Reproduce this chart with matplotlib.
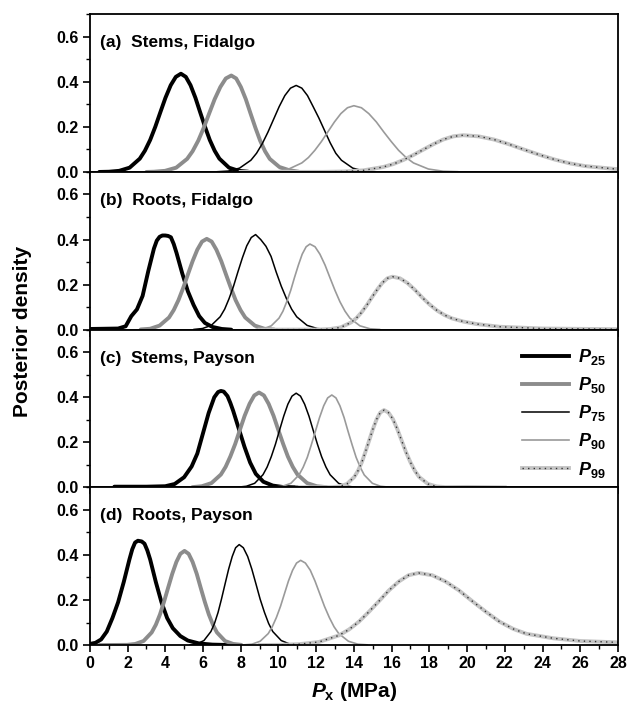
import matplotlib
matplotlib.use('Agg')
import matplotlib.pyplot as plt
from matplotlib.ticker import MultipleLocator, FormatStrFormatter
from matplotlib.lines import Line2D
from matplotlib.legend_handler import HandlerTuple

plt.rcParams['font.family'] = ['Liberation Sans', 'DejaVu Sans']
plt.rcParams['font.weight'] = 'bold'
plt.rcParams['mathtext.fontset'] = 'custom'
plt.rcParams['mathtext.rm'] = 'Liberation Sans:bold'
plt.rcParams['mathtext.it'] = 'Liberation Sans:italic:bold'
plt.rcParams['mathtext.bf'] = 'Liberation Sans:bold'

# ---- data (Px in MPa, posterior density) ----
panel_titles = ['(a)  Stems, Fidalgo', '(b)  Roots, Fidalgo',
                '(c)  Stems, Payson', '(d)  Roots, Payson']
series_names = ['25', '50', '75', '90', '99']

# (a) Stems, Fidalgo
a_p25_x = [0.5, 1.02, 1.56, 2.11, 2.65, 2.92, 3.2, 3.47, 3.74, 4.01, 4.29, 4.56, 4.83, 5.09, 5.34, 5.6, 5.85, 6.11, 6.36, 6.62, 6.87, 7.38, 7.89, 8.4]
a_p25_y = [0.0, 0.001, 0.005, 0.019, 0.059, 0.094, 0.142, 0.2, 0.265, 0.329, 0.385, 0.422, 0.436, 0.422, 0.385, 0.329, 0.265, 0.2, 0.142, 0.094, 0.059, 0.019, 0.005, 0.001]
a_p50_x = [3.0, 3.4, 3.99, 4.58, 5.16, 5.45, 5.75, 6.04, 6.33, 6.62, 6.92, 7.21, 7.5, 7.76, 8.01, 8.27, 8.52, 8.78, 9.03, 9.29, 9.54, 10.05, 10.56, 11.07]
a_p50_y = [0.0, 0.001, 0.005, 0.019, 0.058, 0.092, 0.139, 0.196, 0.26, 0.323, 0.377, 0.415, 0.428, 0.415, 0.377, 0.323, 0.26, 0.196, 0.139, 0.092, 0.058, 0.022, 0.008, 0.001]
a_p75_x = [6.74, 7.34, 7.94, 8.54, 8.84, 9.14, 9.44, 9.74, 10.04, 10.34, 10.64, 10.94, 11.24, 11.54, 11.84, 12.14, 12.44, 12.74, 13.04, 13.34, 13.94, 14.54, 15.14]
a_p75_y = [0.001, 0.004, 0.017, 0.052, 0.083, 0.125, 0.176, 0.233, 0.29, 0.339, 0.372, 0.384, 0.372, 0.339, 0.29, 0.24, 0.185, 0.13, 0.083, 0.052, 0.017, 0.004, 0.001]
a_p90_x = [9.17, 9.86, 10.55, 11.24, 11.59, 11.93, 12.28, 12.62, 12.97, 13.31, 13.66, 14.0, 14.4, 14.79, 15.19, 15.58, 15.98, 16.37, 16.77, 17.16, 17.95, 18.74, 19.53]
a_p90_y = [0.001, 0.003, 0.013, 0.04, 0.064, 0.096, 0.135, 0.178, 0.222, 0.259, 0.285, 0.294, 0.285, 0.259, 0.222, 0.178, 0.135, 0.096, 0.064, 0.04, 0.013, 0.003, 0.001]
a_p99_x = [8.0, 12.38, 13.44, 14.5, 15.56, 16.09, 16.62, 17.15, 17.68, 18.21, 18.74, 19.27, 19.8, 20.61, 21.42, 22.22, 23.03, 23.84, 24.65, 25.45, 26.26, 28.0]
a_p99_y = [0.0, 0.0003, 0.002, 0.007, 0.022, 0.035, 0.053, 0.075, 0.099, 0.123, 0.144, 0.158, 0.163, 0.158, 0.144, 0.123, 0.099, 0.076, 0.055, 0.038, 0.026, 0.012]

# (b) Roots, Fidalgo
b_p25_x = [0.0, 1.5, 1.9, 2.2, 2.5, 2.8, 3.1, 3.4, 3.55, 3.7, 3.85, 4.0, 4.15, 4.3, 4.45, 4.6, 4.9, 5.2, 5.5, 5.8, 6.1, 6.5, 7.0, 7.5]
b_p25_y = [0.003, 0.005, 0.015, 0.06, 0.09, 0.15, 0.26, 0.36, 0.395, 0.412, 0.418, 0.418, 0.416, 0.41, 0.38, 0.34, 0.25, 0.17, 0.11, 0.06, 0.03, 0.012, 0.003, 0.0]
b_p50_x = [2.7, 3.2, 3.7, 4.2, 4.45, 4.7, 4.95, 5.2, 5.45, 5.7, 5.95, 6.2, 6.46, 6.71, 6.97, 7.22, 7.48, 7.73, 7.99, 8.24, 8.75, 9.26, 9.77]
b_p50_y = [0.001, 0.004, 0.018, 0.054, 0.087, 0.131, 0.185, 0.245, 0.304, 0.355, 0.391, 0.403, 0.391, 0.355, 0.304, 0.245, 0.185, 0.131, 0.087, 0.054, 0.018, 0.004, 0.001]
b_p75_x = [5.5, 5.97, 6.44, 6.91, 7.15, 7.38, 7.62, 7.85, 8.09, 8.32, 8.56, 8.79, 9.06, 9.34, 9.61, 9.88, 10.15, 10.43, 10.7, 10.97, 11.52, 12.06, 12.61]
b_p75_y = [0.001, 0.005, 0.019, 0.057, 0.091, 0.137, 0.193, 0.256, 0.319, 0.372, 0.409, 0.422, 0.40, 0.37, 0.325, 0.256, 0.193, 0.137, 0.091, 0.057, 0.019, 0.005, 0.001]
b_p90_x = [8.8, 9.21, 9.62, 10.03, 10.24, 10.44, 10.65, 10.85, 11.06, 11.26, 11.47, 11.67, 11.94, 12.2, 12.47, 12.73, 13.0, 13.26, 13.53, 13.79, 14.32, 14.85, 15.38]
b_p90_y = [0.001, 0.004, 0.017, 0.051, 0.082, 0.124, 0.174, 0.231, 0.287, 0.335, 0.368, 0.38, 0.368, 0.335, 0.287, 0.231, 0.174, 0.124, 0.082, 0.051, 0.017, 0.004, 0.001]
b_p99_x = [9.0, 12.2, 12.75, 13.3, 13.85, 14.13, 14.4, 14.68, 14.95, 15.23, 15.5, 15.78, 16.05, 16.44, 16.84, 17.23, 17.62, 18.01, 18.41, 18.8, 19.2, 19.8, 20.5, 21.7, 24.0, 28.0]
b_p99_y = [0.0, 0.0005, 0.003, 0.01, 0.032, 0.051, 0.076, 0.108, 0.143, 0.177, 0.207, 0.228, 0.235, 0.228, 0.207, 0.177, 0.143, 0.112, 0.085, 0.065, 0.05, 0.036, 0.025, 0.013, 0.005, 0.002]

# (c) Stems, Payson
c_p25_x = [1.3, 3.0, 4.0, 4.5, 5.0, 5.4, 5.7, 6.0, 6.3, 6.6, 6.8, 6.95, 7.1, 7.3, 7.45, 7.6, 7.9, 8.2, 8.5, 8.8, 9.2, 9.7, 10.2, 11.0]
c_p25_y = [0.003, 0.003, 0.005, 0.015, 0.045, 0.093, 0.15, 0.24, 0.33, 0.40, 0.423, 0.428, 0.425, 0.405, 0.375, 0.34, 0.26, 0.18, 0.11, 0.06, 0.025, 0.008, 0.002, 0.0]
c_p50_x = [5.44, 5.94, 6.45, 6.95, 7.2, 7.45, 7.71, 7.96, 8.21, 8.47, 8.72, 8.97, 9.23, 9.48, 9.74, 9.99, 10.25, 10.5, 10.76, 11.01, 11.52, 12.03, 12.54]
c_p50_y = [0.001, 0.005, 0.019, 0.057, 0.091, 0.137, 0.193, 0.256, 0.318, 0.371, 0.408, 0.421, 0.408, 0.371, 0.318, 0.256, 0.193, 0.137, 0.091, 0.057, 0.019, 0.005, 0.001]
c_p75_x = [7.86, 8.3, 8.74, 9.18, 9.4, 9.62, 9.84, 10.06, 10.28, 10.5, 10.72, 10.94, 11.17, 11.39, 11.62, 11.84, 12.07, 12.29, 12.52, 12.74, 13.19, 13.64, 14.09]
c_p75_y = [0.001, 0.005, 0.018, 0.056, 0.09, 0.136, 0.191, 0.254, 0.316, 0.369, 0.405, 0.418, 0.405, 0.369, 0.316, 0.254, 0.191, 0.136, 0.09, 0.056, 0.018, 0.005, 0.001]
c_p90_x = [9.78, 10.22, 10.66, 11.09, 11.31, 11.53, 11.74, 11.96, 12.18, 12.4, 12.61, 12.83, 13.05, 13.26, 13.48, 13.69, 13.91, 14.12, 14.34, 14.55, 14.98, 15.41, 15.84]
c_p90_y = [0.001, 0.005, 0.018, 0.055, 0.089, 0.133, 0.188, 0.249, 0.31, 0.362, 0.397, 0.41, 0.397, 0.362, 0.31, 0.249, 0.188, 0.133, 0.089, 0.055, 0.018, 0.005, 0.001]
c_p99_x = [11.0, 12.84, 13.23, 13.63, 14.02, 14.22, 14.42, 14.61, 14.81, 15.01, 15.21, 15.4, 15.6, 15.83, 16.07, 16.3, 16.53, 16.76, 17.0, 17.23, 17.46, 17.93, 18.39, 18.86, 20.0, 22.0]
c_p99_y = [0.0, 0.001, 0.004, 0.015, 0.046, 0.074, 0.111, 0.157, 0.208, 0.259, 0.303, 0.332, 0.343, 0.332, 0.303, 0.259, 0.208, 0.157, 0.111, 0.074, 0.046, 0.015, 0.004, 0.001, 0.002, 0.0]

# (d) Roots, Payson
d_p25_x = [0.0, 0.3, 0.6, 0.9, 1.2, 1.5, 1.8, 2.1, 2.25, 2.4, 2.55, 2.75, 2.9, 3.05, 3.2, 3.5, 3.8, 4.1, 4.4, 4.8, 5.2, 5.8, 6.5, 7.5]
d_p25_y = [0.005, 0.01, 0.025, 0.06, 0.12, 0.19, 0.28, 0.38, 0.425, 0.455, 0.463, 0.46, 0.45, 0.42, 0.38, 0.28, 0.19, 0.12, 0.075, 0.04, 0.02, 0.007, 0.002, 0.0]
d_p50_x = [0.5, 1.98, 2.41, 2.85, 3.28, 3.5, 3.72, 3.93, 4.15, 4.37, 4.59, 4.8, 5.02, 5.24, 5.45, 5.67, 5.88, 6.1, 6.31, 6.53, 6.74, 7.17, 7.6, 8.03]
d_p50_y = [0.0, 0.001, 0.005, 0.018, 0.056, 0.09, 0.136, 0.191, 0.254, 0.316, 0.369, 0.405, 0.418, 0.405, 0.369, 0.316, 0.254, 0.191, 0.136, 0.09, 0.056, 0.018, 0.005, 0.001]
d_p75_x = [5.3, 5.67, 6.05, 6.42, 6.61, 6.8, 6.98, 7.17, 7.36, 7.55, 7.73, 7.92, 8.14, 8.37, 8.59, 8.81, 9.03, 9.26, 9.48, 9.7, 10.15, 10.59, 11.04]
d_p75_y = [0.001, 0.005, 0.02, 0.06, 0.096, 0.145, 0.204, 0.271, 0.337, 0.393, 0.432, 0.446, 0.432, 0.393, 0.337, 0.271, 0.204, 0.145, 0.096, 0.06, 0.02, 0.005, 0.001]
d_p90_x = [8.17, 8.6, 9.03, 9.46, 9.67, 9.89, 10.11, 10.32, 10.53, 10.75, 10.96, 11.18, 11.43, 11.69, 11.94, 12.19, 12.44, 12.7, 12.95, 13.2, 13.71, 14.21, 14.72]
d_p90_y = [0.001, 0.004, 0.017, 0.051, 0.081, 0.122, 0.172, 0.228, 0.284, 0.332, 0.364, 0.376, 0.364, 0.332, 0.284, 0.228, 0.172, 0.122, 0.081, 0.051, 0.017, 0.004, 0.001]
d_p99_x = [9.0, 10.05, 11.1, 12.16, 13.21, 13.74, 14.27, 14.79, 15.32, 15.85, 16.38, 16.9, 17.43, 18.15, 18.86, 19.58, 20.29, 21.01, 21.72, 22.44, 23.15, 24.58, 26.01, 28.0]
d_p99_y = [0.0, 0.001, 0.004, 0.014, 0.043, 0.069, 0.104, 0.147, 0.194, 0.242, 0.282, 0.31, 0.32, 0.31, 0.282, 0.242, 0.194, 0.147, 0.104, 0.072, 0.05, 0.03, 0.018, 0.012]

panels = [
    [(a_p25_x, a_p25_y), (a_p50_x, a_p50_y), (a_p75_x, a_p75_y), (a_p90_x, a_p90_y), (a_p99_x, a_p99_y)],
    [(b_p25_x, b_p25_y), (b_p50_x, b_p50_y), (b_p75_x, b_p75_y), (b_p90_x, b_p90_y), (b_p99_x, b_p99_y)],
    [(c_p25_x, c_p25_y), (c_p50_x, c_p50_y), (c_p75_x, c_p75_y), (c_p90_x, c_p90_y), (c_p99_x, c_p99_y)],
    [(d_p25_x, d_p25_y), (d_p50_x, d_p50_y), (d_p75_x, d_p75_y), (d_p90_x, d_p90_y), (d_p99_x, d_p99_y)],
]

styles = [dict(color='black', lw=2.8),
          dict(color='#8c8c8c', lw=2.8),
          dict(color='black', lw=1.1),
          dict(color='#9a9a9a', lw=1.2)]
p99_back = dict(color='#c4c4c4', lw=2.8)
p99_dots = dict(color='#333333', lw=1.0, linestyle=(0, (1, 3)))

fig = plt.figure(figsize=(6.28, 7.12), dpi=100)
axes = fig.subplots(4, 1, sharex=True)
fig.subplots_adjust(left=0.143, right=0.984, top=0.980, bottom=0.094, hspace=0)

for i, ax in enumerate(axes):
    for j, (xs, ys) in enumerate(panels[i]):
        if j < 4:
            ax.plot(xs, ys, solid_capstyle='round', solid_joinstyle='round', **styles[j])
        else:
            ax.plot(xs, ys, solid_joinstyle='round', **p99_back)
            ax.plot(xs, ys, **p99_dots)
    ax.set_xlim(0, 28)
    ax.set_ylim(0, 0.7)
    ax.xaxis.set_major_locator(MultipleLocator(2))
    ax.xaxis.set_minor_locator(MultipleLocator(1))
    ax.yaxis.set_major_locator(MultipleLocator(0.2))
    ax.yaxis.set_minor_locator(MultipleLocator(0.1))
    ax.yaxis.set_major_formatter(FormatStrFormatter('%.1f'))
    ax.tick_params(which='major', direction='out', length=5, width=1.2, labelsize=11.5, pad=3)
    ax.tick_params(which='minor', direction='out', length=3, width=1.0)
    for s in ax.spines.values():
        s.set_linewidth(1.3)
    ax.text(0.02, 0.82, panel_titles[i], transform=ax.transAxes, fontsize=12.5,
            fontweight='bold', va='center', ha='left')

axes[-1].set_xlabel(r'$\mathit{P}_{\mathrm{x}}$ (MPa)', fontsize=15, fontweight='bold', labelpad=6)
fig.supylabel('Posterior density', fontsize=15, fontweight='bold', x=0.02, y=0.534)

handles = [Line2D([], [], **styles[k]) for k in range(4)]
handles.append((Line2D([], [], **p99_back), Line2D([], [], **p99_dots)))
labels = [r'$\mathit{P}_{\mathrm{%s}}$' % n for n in series_names]
axes[2].legend(handles, labels, loc='upper right', bbox_to_anchor=(1.0, 0.97), frameon=False,
               fontsize=13, handlelength=2.6, handletextpad=0.5, labelspacing=0.45,
               borderpad=0.2, handler_map={tuple: HandlerTuple(ndivide=1, pad=0)})

fig.savefig('out.png', dpi=100)
